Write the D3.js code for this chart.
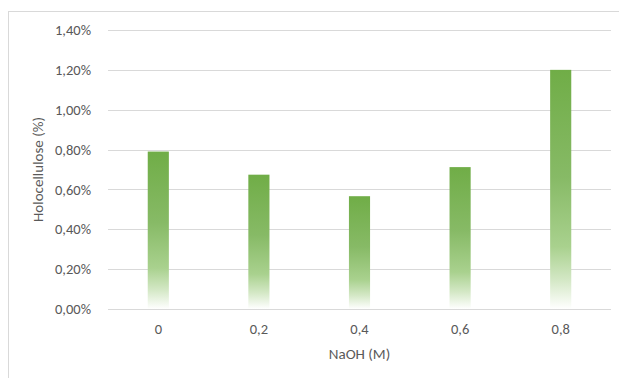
<!DOCTYPE html>
<html>
<head>
<meta charset="utf-8">
<script src="https://cdn.jsdelivr.net/npm/d3@7"></script>
<style>
  html, body { margin: 0; padding: 0; background: #fff; }
  svg { display: block; }
  text { font-family: Carlito, "Open Sans", "Liberation Sans", sans-serif; fill: #595959; }
</style>
</head>
<body>
<svg id="chart" width="619" height="378"></svg>
<script>
// NaOH concentration (M) and holocellulose content (%)
const categories = ["0", "0,2", "0,4", "0,6", "0,8"];
const holocellulose = [0.79, 0.674, 0.566, 0.712, 1.20];
const yTicks = [0, 0.2, 0.4, 0.6, 0.8, 1.0, 1.2, 1.4];
const xTitle = "NaOH (M)";
const yTitle = "Holocellulose (%)";

const FONT = 'Carlito, "Open Sans", "Liberation Sans", sans-serif';
const svg = d3.select("#chart");
const W = 619, H = 378;
const margin = { left: 108, right: 8, top: 30, bottom: 69 };
const plotW = W - margin.left - margin.right;
const plotH = H - margin.top - margin.bottom;

// Outer chart-area frame (open on the right and bottom edges of the window)
svg.append("rect")
  .attr("x", 8.5).attr("y", 11.5)
  .attr("width", 800).attr("height", 600)
  .attr("fill", "#fff").attr("stroke", "#d9d9d9").attr("stroke-width", 1);

const defs = svg.append("defs");
const grad = defs.append("linearGradient")
  .attr("id", "barFill").attr("x1", 0).attr("y1", 0).attr("x2", 0).attr("y2", 1);
[[0, "#70ad47"], [0.45, "#87ba66"], [0.74, "#a9d18e"], [0.88, "#d4e8c6"], [1, "#ffffff"]]
  .forEach(([o, c]) => grad.append("stop").attr("offset", o).attr("stop-color", c));

const g = svg.append("g").attr("transform", `translate(${margin.left},${margin.top})`);

const x = d3.scaleBand().domain(categories).range([0, plotW]).paddingInner(0.79).paddingOuter(0.395);
const y = d3.scaleLinear().domain([0, 1.4]).range([plotH, 0]);

// Horizontal gridlines
g.append("g").selectAll("line").data(yTicks).join("line")
  .attr("x1", 0).attr("x2", plotW)
  .attr("y1", d => Math.round(y(d)) + 0.5).attr("y2", d => Math.round(y(d)) + 0.5)
  .attr("stroke", "#d9d9d9").attr("stroke-width", 1);

// Y axis tick labels
const yAxis = d3.axisLeft(y).tickValues(yTicks).tickSize(0).tickPadding(17)
  .tickFormat(d => d3.format(".2f")(d).replace(".", ",") + "%");
g.append("g").call(yAxis)
  .call(s => s.select(".domain").remove())
  .call(s => s.selectAll("text").style("font-size", "14.5px").attr("fill", "#595959")
    .style("font-family", FONT));

// Bars
g.append("g").selectAll("rect").data(categories).join("rect")
  .attr("x", d => x(d))
  .attr("y", (d, i) => y(holocellulose[i]))
  .attr("width", x.bandwidth())
  .attr("height", (d, i) => y(0) - y(holocellulose[i]))
  .attr("fill", "url(#barFill)");

// X axis tick labels
const xAxis = d3.axisBottom(x).tickSize(0).tickPadding(15);
g.append("g").attr("transform", `translate(0,${plotH})`).call(xAxis)
  .call(s => s.select(".domain").remove())
  .call(s => s.selectAll("text").style("font-size", "14.5px").attr("fill", "#595959")
    .style("font-family", FONT));

// Axis titles
svg.append("text")
  .attr("x", margin.left + plotW / 2).attr("y", 359)
  .attr("text-anchor", "middle").style("font-size", "15px")
  .text(xTitle);

svg.append("text")
  .attr("transform", `translate(43,${margin.top + plotH / 2}) rotate(-90)`)
  .attr("text-anchor", "middle").style("font-size", "15px")
  .text(yTitle);
</script>
</body>
</html>
